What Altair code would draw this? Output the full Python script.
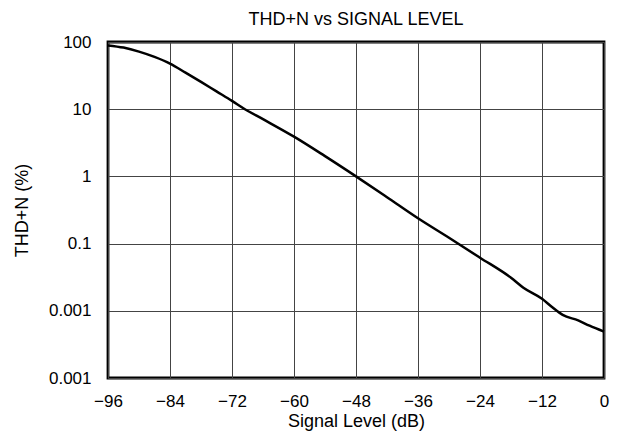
import altair as alt
import pandas as pd

signal_db = [-96, -93, -90, -87, -84, -81, -78, -75, -72, -69.5, -66, -60, -54, -48, -42, -36, -30,
             -24, -18, -15.6, -12, -10, -8, -5, -2.8, 0]
thd_pct = [89, 82.6, 72, 60, 47.8, 35, 25.5, 18.4, 13.3, 10, 7.1, 3.9, 2.0, 1.0, 0.49, 0.238, 0.122,
           0.0617, 0.031, 0.022, 0.0151, 0.0113, 0.0087, 0.0072, 0.006, 0.0049]

x_ticks = [-96, -84, -72, -60, -48, -36, -24, -12, 0]
x_labels = ["\u221296", "\u221284", "\u221272", "\u221260", "\u221248", "\u221236", "\u221224", "\u221212", "0"]
y_ticks = [100, 10, 1, 0.1, 0.01, 0.001]
y_labels = ["100", "10", "1", "0.1", "0.001", "0.001"]

df = pd.DataFrame({"db": signal_db, "thd": thd_pct})

def label_expr(vals, labs):
    parts = []
    for v, l in zip(vals, labs):
        parts.append(f"abs(datum.value - ({v})) < {abs(v) * 1e-6 + 1e-9} ? '{l}'")
    return " : ".join(parts) + " : ''"

FONT = "Liberation Sans"

chart = alt.Chart(df).mark_line(color="black", strokeWidth=2.5, interpolate="monotone").encode(
    x=alt.X("db:Q", scale=alt.Scale(domain=[-96, 0], nice=False, zero=False),
            axis=alt.Axis(values=x_ticks, labelExpr=label_expr(x_ticks, x_labels),
                          title="Signal Level (dB)", grid=True, ticks=False, domain=False,
                          labelFlush=False, labelPadding=15, titlePadding=3)),
    y=alt.Y("thd:Q", scale=alt.Scale(type="log", domain=[0.001, 100], nice=False),
            axis=alt.Axis(values=y_ticks, labelExpr=label_expr(y_ticks, y_labels),
                          title="THD+N (%)", grid=True, ticks=False, domain=False,
                          labelFlush=False, labelPadding=17, titlePadding=17)),
).properties(
    width=496, height=336,
    title=alt.TitleParams("THD+N vs SIGNAL LEVEL", fontSize=18, font=FONT, fontWeight="normal",
                          anchor="middle", offset=4, color="black"),
    autosize=alt.AutoSizeParams(type="none"),
    padding={"left": 100, "top": 34, "right": 10, "bottom": 60},
).configure_view(
    stroke="black", strokeWidth=2.8
).configure_axis(
    labelFont=FONT, titleFont=FONT, labelFontSize=17, titleFontSize=18,
    labelColor="black", titleColor="black", titleFontWeight="normal",
    gridColor="#444444", gridWidth=1, gridOpacity=1,
)

chart.save("out.html", embed_options={"renderer": "svg", "actions": False})
